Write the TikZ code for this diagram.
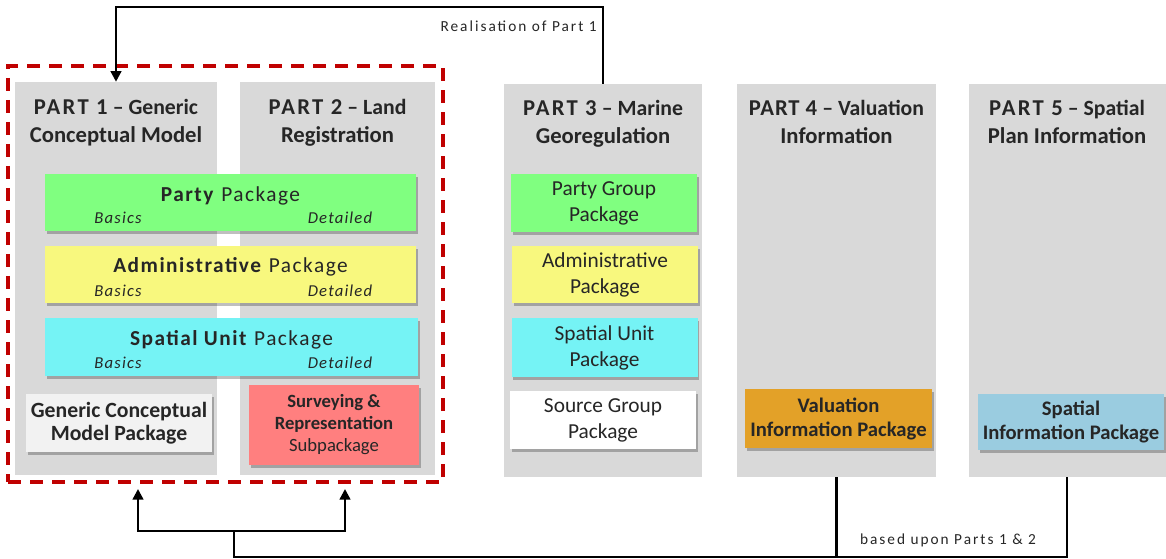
\documentclass[tikz,border=0pt]{standalone}
\usepackage{fontspec}
\setmainfont{Carlito}
\usepackage{xcolor}
\usetikzlibrary{arrows.meta,positioning,shadows}

\definecolor{colgray}{HTML}{D9D9D9}
\definecolor{pgreen}{HTML}{80FF80}
\definecolor{pyellow}{HTML}{F8F87E}
\definecolor{pcyan}{HTML}{75F3F5}
\definecolor{psalmon}{HTML}{FF7F7F}
\definecolor{pwhite}{HTML}{F2F2F2}
\definecolor{porange}{HTML}{E3A128}
\definecolor{pblue}{HTML}{9ACCE0}
\definecolor{framered}{HTML}{C00000}
\definecolor{txtgray}{HTML}{262626}

\newcommand{\hsub}[1]{{\fontsize{16.3}{21}\selectfont #1}}
\newcommand{\wide}[1]{\addfontfeature{LetterSpace=#1}}

\begin{document}
\begin{tikzpicture}[
    x=0.75pt, y=-0.75pt,
    every node/.style={text=txtgray, inner sep=0pt},
    col/.style={rectangle, fill=colgray, minimum height=294.75pt},
    head/.style={align=center, anchor=north, font=\fontsize{17}{21}\selectfont\bfseries},
    shade/.style={drop shadow={shadow xshift=1.2pt, shadow yshift=-2.2pt, fill=black, opacity=0.25}},
    bar/.style={rectangle, shade, minimum width=278.25pt, minimum height=42.75pt},
    bartitle/.style={anchor=base, font=\fontsize{16}{19}\selectfont\wide{7}},
    barsub/.style={anchor=base, font=\fontsize{12.5}{15}\selectfont\itshape\wide{7}},
    pkg/.style={rectangle, shade, align=center, minimum width=139.5pt, minimum height=43.5pt},
    conn/.style={draw=black, line width=1.8pt},
    arr/.style={-{Triangle[length=8pt,width=8pt]}},
    lbl/.style={anchor=base, font=\fontsize{11.5}{13}\selectfont\wide{13}},
]
    \useasboundingbox (0,0) rectangle (1166,559);

    % part columns
    \node[col, minimum width=151.5pt] (p1col) at (116,278.5) {};
    \node[col, minimum width=146.25pt] (p2col) at (337.5,278.5) {};
    \node[col, minimum width=148.5pt] (p3col) at (603,280.5) {};
    \node[col, minimum width=149.25pt] (p4col) at (836.5,280.5) {};
    \node[col, minimum width=147.75pt] (p5col) at (1067,280.5) {};

    % parts 1 and 2 together
    \node[draw=framered, line width=2.6pt, dash pattern=on 10pt off 6.5pt,
          minimum width=326.25pt, minimum height=312pt] (frame) at (225.5,274) {};

    % headings
    \node[head] (p1head) at (116,98.5) {{\wide{10}PART 1} \hsub{-- Generic}\\Conceptual Model};
    \node[head] (p2head) at (337.5,98.5) {{\wide{10}PART 2} \hsub{-- Land}\\Registration};
    \node[head] (p3head) at (603,99.5) {{\wide{10}PART 3} \hsub{-- Marine}\\Georegulation};
    \node[head] (p4head) at (836.5,99.5) {{\wide{4}PART 4} \hsub{-- Valuation}\\Information};
    \node[head] (p5head) at (1067,99.5) {{\wide{10}PART 5} \hsub{-- Spatial}\\Plan Information};

    % shared packages of parts 1 and 2
    \node[bar, fill=pgreen] (party) at (230.5,202.5) {};
    \node[bartitle] (party-t) at (230.5,202) {\textbf{Party} Package};
    \node[barsub] (party-b) at (118,224) {Basics};
    \node[barsub] (party-d) at (340,224) {Detailed};

    \node[bar, fill=pyellow] (admin) at (230.5,274.5) {};
    \node[bartitle] (admin-t) at (230.5,273) {\textbf{Administrative} Package};
    \node[barsub] (admin-b) at (118,297) {Basics};
    \node[barsub] (admin-d) at (340,297) {Detailed};

    \node[bar, fill=pcyan, minimum width=279.75pt, minimum height=43.5pt] (su) at (231.5,347) {};
    \node[bartitle] (su-t) at (231.5,345) {\textbf{Spatial Unit} Package};
    \node[barsub] (su-b) at (118,368) {Basics};
    \node[barsub] (su-d) at (340,368) {Detailed};

    \node[pkg, fill=pwhite, font=\fontsize{16.3}{17.25}\selectfont\bfseries] (gcm) at (119,423) {Generic Conceptual\\Model Package};
    \node[pkg, fill=psalmon, minimum width=127.5pt, minimum height=60pt,
          font=\fontsize{14}{16.5}\selectfont] (sr) at (334,425) {\textbf{Surveying \&}\\\textbf{Representation}\\Subpackage};

    % part 3
    \node[pkg, fill=pgreen, font=\fontsize{16}{19.5}\selectfont] (p3party) at (604,203) {Party Group\\Package};
    \node[pkg, fill=pyellow, minimum height=42.75pt, font=\fontsize{16}{19.5}\selectfont] (p3admin) at (605,274.5) {Administrative\\Package};
    \node[pkg, fill=pcyan, minimum height=44.25pt, font=\fontsize{16}{19.5}\selectfont] (p3su) at (604.5,347.5) {Spatial Unit\\Package};
    \node[pkg, fill=white, font=\fontsize{16}{19.5}\selectfont] (p3source) at (603,420) {Source Group\\Package};

    % parts 4 and 5
    \node[pkg, fill=porange, minimum width=140.25pt, minimum height=44.25pt,
          font=\fontsize{15.5}{18}\selectfont\bfseries] (val) at (838.5,418.5) {Valuation\\Information Package};
    \node[pkg, fill=pblue, minimum height=42pt,
          font=\fontsize{15.5}{18}\selectfont\bfseries] (spi) at (1071,422) {Spatial\\Information Package};

    % realisation of part 1
    \draw[conn, arr] (p3col.north) -- ++(0,-77) -| (p1col.north);
    \node[lbl, anchor=base east] (real) at (597,32) {Realisation of Part 1};

    % based upon parts 1 & 2
    \coordinate (split) at (234,531);
    \coordinate (busL) at (234,557);
    \coordinate (in1) at (138,489);
    \coordinate (in2) at (345,489);
    \draw[conn] (p5col.south) |- (busL) -- (split);
    \draw[conn] (p4col.south) -- (p4col.south |- busL);
    \draw[conn, arr] (split) -| (in1);
    \draw[conn, arr] (split) -| (in2);
    \node[lbl] (based) at (948,544) {based upon Parts 1 \& 2};
\end{tikzpicture}
\end{document}
